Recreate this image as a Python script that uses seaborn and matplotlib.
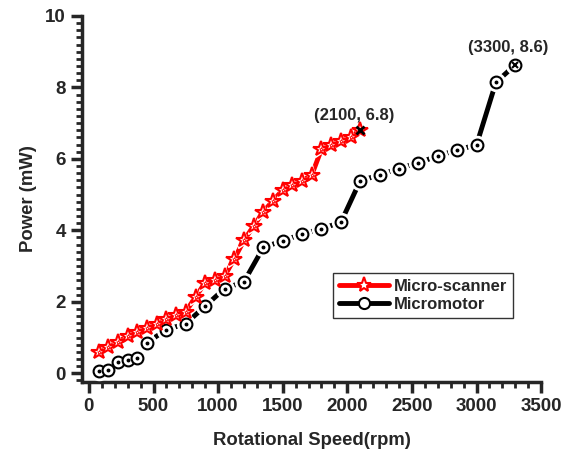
import matplotlib
matplotlib.use("Agg")
import matplotlib.pyplot as plt
import seaborn as sns
import pandas as pd
from matplotlib.lines import Line2D
from matplotlib.ticker import MultipleLocator

sns.set_style("ticks")
plt.rcParams['font.family'] = ['Liberation Sans', 'DejaVu Sans']
plt.rcParams['font.weight'] = 'bold'

scanner_speed = [75, 150, 225, 300, 375, 450, 525, 600, 675, 750, 825, 900, 975, 1050,
                 1125, 1200, 1275, 1350, 1425, 1500, 1575, 1650, 1725, 1800, 1875, 1950,
                 2025, 2100]
scanner_power = [0.59, 0.74, 0.88, 1.04, 1.16, 1.27, 1.39, 1.51, 1.62, 1.72, 2.14, 2.53,
                 2.62, 2.72, 3.20, 3.72, 4.12, 4.52, 4.83, 5.13, 5.26, 5.39, 5.55, 6.27,
                 6.39, 6.51, 6.62, 6.80]
motor_speed = [75, 150, 225, 300, 375, 450, 600, 750, 900, 1050, 1200, 1350, 1500, 1650,
               1800, 1950, 2100, 2250, 2400, 2550, 2700, 2850, 3000, 3150, 3300]
motor_power = [0.07, 0.08, 0.32, 0.38, 0.43, 0.86, 1.22, 1.39, 1.88, 2.37, 2.56, 3.52,
               3.71, 3.89, 4.05, 4.22, 5.39, 5.55, 5.73, 5.89, 6.08, 6.25, 6.39, 8.14, 8.63]

scan = pd.DataFrame({"speed": scanner_speed, "power": scanner_power})
motor = pd.DataFrame({"speed": motor_speed, "power": motor_power})

fig = plt.figure(figsize=(5.69, 4.55), dpi=100)
ax = fig.add_axes([0.144, 0.160, 0.807, 0.805])

# lines
sns.lineplot(data=motor, x="speed", y="power", ax=ax, color="black", lw=3.5, sort=False)
sns.lineplot(data=scan, x="speed", y="power", ax=ax, color="red", lw=3.5, sort=False)
for ln in ax.lines:
    ln.set_zorder(2)

# white gaps around symbols
ax.plot(motor["speed"], motor["power"], ls="none", marker="o", ms=13, mfc="white", mec="white", zorder=3)
ax.plot(scan["speed"], scan["power"], ls="none", marker="*", ms=15, mfc="white", mec="white", zorder=3)

# symbols
ax.plot(motor["speed"], motor["power"], ls="none", marker="o", ms=8.5, mfc="white",
        mec="black", mew=1.5, zorder=4)
ax.plot(motor["speed"][:-1], motor["power"][:-1], ls="none", marker="o", ms=1.8, mfc="black",
        mec="black", zorder=5)
ax.plot(scan["speed"], scan["power"], ls="none", marker="*", ms=11.5, mfc="white",
        mec="red", mew=1.5, zorder=4)
ax.plot(scan["speed"], scan["power"], ls="none", marker="*", ms=3, mfc="white",
        mec="red", mew=0.5, zorder=5)

# end points
ax.plot(motor["speed"].iloc[-1:], motor["power"].iloc[-1:], ls="none", marker="x", ms=5,
        mec="black", mew=1.5, zorder=6)
ax.plot(scan["speed"].iloc[-1:], scan["power"].iloc[-1:], ls="none", marker="x", ms=6,
        mec="black", mew=2, zorder=6)

ax.text(2050, 7.2, "(2100, 6.8)", ha="center", va="center", fontsize=12, fontweight="bold")
ax.text(3245, 9.13, "(3300, 8.6)", ha="center", va="center", fontsize=12, fontweight="bold")

ax.set_xlim(-54, 3500)
ax.set_ylim(-0.25, 10)
ax.xaxis.set_major_locator(MultipleLocator(500))
ax.xaxis.set_minor_locator(MultipleLocator(100))
ax.yaxis.set_major_locator(MultipleLocator(2))
ax.yaxis.set_minor_locator(MultipleLocator(0.2))
ax.tick_params(which="major", length=8, width=2.5, direction="out", labelsize=13.5)
ax.tick_params(which="minor", length=4, width=2, direction="out")
for lab in ax.get_xticklabels() + ax.get_yticklabels():
    lab.set_fontweight("bold")

for s in ["top", "right"]:
    ax.spines[s].set_visible(False)
for s in ["left", "bottom"]:
    ax.spines[s].set_linewidth(2.5)

ax.set_xlabel("Rotational Speed(rpm)", fontsize=13.3, fontweight="bold", labelpad=12)
ax.set_ylabel("Power (mW)", fontsize=13.3, fontweight="bold", labelpad=6)

handles = [
    Line2D([], [], color="red", lw=3.5, marker="*", ms=11, mfc="white", mec="red", mew=1.5),
    Line2D([], [], color="black", lw=3.5, marker="o", ms=8, mfc="white", mec="black", mew=1.5),
]
leg = ax.legend(handles, ["Micro-scanner", "Micromotor"], loc="upper left",
                bbox_to_anchor=(0.547, 0.298), frameon=True, fancybox=False, edgecolor="black",
                prop={"weight": "bold", "size": 12}, handlelength=3.0, borderpad=0.35,
                labelspacing=0.2, handletextpad=0.3, borderaxespad=0)
leg.get_frame().set_linewidth(1)

fig.savefig("out.png", dpi=100)
